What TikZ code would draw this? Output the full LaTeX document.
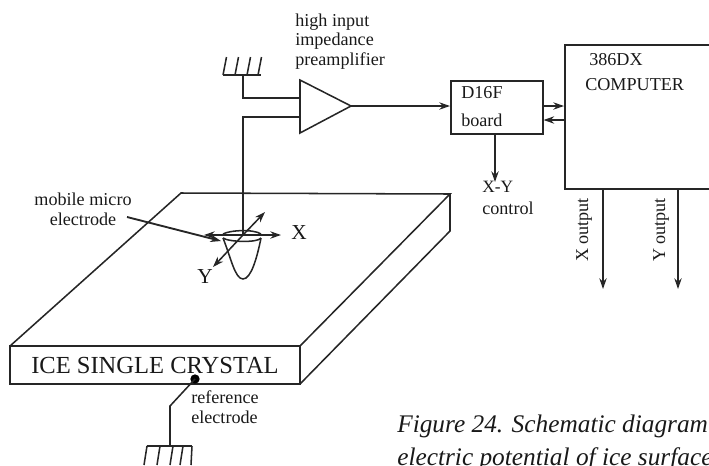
\documentclass[tikz,border=0pt]{standalone}
\usepackage{fontspec}
\setmainfont{Liberation Serif}
\usetikzlibrary{arrows.meta}
\tikzset{
  x=0.75pt,y=-0.75pt,
  wire/.style={line width=1.15pt,black!85},
  arr/.style={wire,-{Stealth[length=8pt,width=5.5pt]}},
  lab/.style={inner sep=0pt,font=\fontsize{13.6pt}{15pt}\selectfont,align=left,black!90},
  big/.style={inner sep=0pt,black!90},
  captext/.style={inner sep=0pt,anchor=base west,font=\itshape\fontsize{19pt}{21pt}\selectfont,black!90},
  refdot/.style={circle,fill=black,inner sep=0pt,minimum size=7pt}
}
\begin{document}
\begin{tikzpicture}
\useasboundingbox (0,0) rectangle (709,465);
\clip (0,0) rectangle (709,465);
% ice block
\coordinate (tl) at (181,193);
\coordinate (tr) at (450,194);
\coordinate (rb) at (450,231);
\coordinate (fl) at (10,346);
\coordinate (fr) at (300,346);
\coordinate (bl) at (10,384);
\coordinate (br) at (300,384);
\draw[wire] (fl) -- (tl) -- (tr) -- (fr) -- (fl) -- (bl) -- (br) -- (fr);
\draw[wire] (br) -- (rb) -- (tr);
\node[big,font=\fontsize{18.4pt}{20pt}\selectfont] (ice) at (155,365) {ICE SINGLE CRYSTAL};
% preamp
\coordinate (a1) at (300,80);
\coordinate (a2) at (300,133);
\coordinate (a3) at (351,106);
\draw[wire,line join=miter] (a1) -- (a3) -- (a2) -- cycle;
\node[lab,anchor=base west] (hi1) at (295,26) {high input};
\node[lab,anchor=base west] (hi2) at (295,45) {impedance};
\node[lab,anchor=base west] (hi3) at (295,65) {preamplifier};
% top ground
\coordinate (g1l) at (223,75);
\coordinate (g1r) at (261,75);
\coordinate (g1m) at (243,75);
\draw[wire] (g1l) -- (g1r);
\foreach \x in {223,235,247,258} \draw[wire] (\x,75) -- (\x+3.5,57);
\draw[wire] (g1m) |- (300,98);
\coordinate (tip) at (243,236);
\draw[wire] (tip) |- (300,117);
% D16F
\node[draw,wire,minimum width=69pt,anchor=north west,inner sep=0pt,minimum height=40pt] (d16) at (450,80) {};
\node[lab,anchor=west] (d16t) at (461,93) {D16F};
\node[lab,anchor=west] (bd) at (461,120) {board};
\draw[arr] (a3) -- (d16.west|-a3);
\node[lab,anchor=west,font=\fontsize{13pt}{15pt}\selectfont] (xy) at (482,187) {X-Y};
\node[lab,anchor=west] (ctl) at (482,208) {control};
\draw[arr] (d16.south-|495,0) -- (495,182);
% computer
\node[draw,wire,anchor=north west,inner sep=0pt,minimum width=165pt,minimum height=108pt] (cmp) at (564,44) {};
\node[lab,anchor=west] (c1) at (589,60) {386DX};
\node[lab,anchor=west] (c2) at (585,85) {COMPUTER};
\draw[arr] (d16.east|-0,106) -- (cmp.west|-0,106);
\draw[arr] (cmp.west|-0,120) -- (d16.east|-0,120);
\draw[arr] (603,188) -- (603,289);
\draw[arr] (678,188) -- (678,289);
\node[lab,rotate=90] (xo) at (584,230) {X output};
\node[lab,rotate=90] (yo) at (661,230) {Y output};
% electrode
\draw[wire] (223,238) .. controls (231,258) and (235,279) .. (243,279) .. controls (251,279) and (257,258) .. (261,238);
\draw[wire] (223,238) .. controls (228,242) and (258,243) .. (261,238);
\draw[wire] (223,234) .. controls (230,230) and (254,229) .. (261,234);
\draw[arr] (243,235) -- (204,235);
\draw[arr] (243,235) -- (281,235);
\draw[arr] (243,235) -- (265,212);
\draw[arr] (243,235) -- (213,267);
\node[big,font=\fontsize{16pt}{18pt}\selectfont] (lx) at (299,233) {X};
\node[big,font=\fontsize{16pt}{18pt}\selectfont] (ly) at (205,277) {Y};
\node[lab,align=center,anchor=center] (mob) at (83,209) {mobile micro\\electrode};
\coordinate (ms) at (127,217);
\draw[arr,line width=1.4pt] (ms) -- (221,241);
% reference
\node[refdot] (ref) at (195,379) {};
\coordinate (rk) at (170,406);
\draw[wire] (ref.center) -- (rk) -- (170,446);
\node[lab,anchor=west] (rl) at (191,397) {reference};
\node[lab,anchor=west] (rl2) at (191,417) {electrode};
\draw[wire] (147,446) -- (192,446);
\foreach \x in {144,157,170,180} \draw[wire] (\x,465) -- (\x+3,446);
\draw[wire] (192,446) -- (191,465);
% caption
\node[captext] (cap1) at (397,432) {Figure 24. Schematic diagram};
\node[captext] (cap2) at (397,465) {electric potential of ice surface};
\end{tikzpicture}
\end{document}
